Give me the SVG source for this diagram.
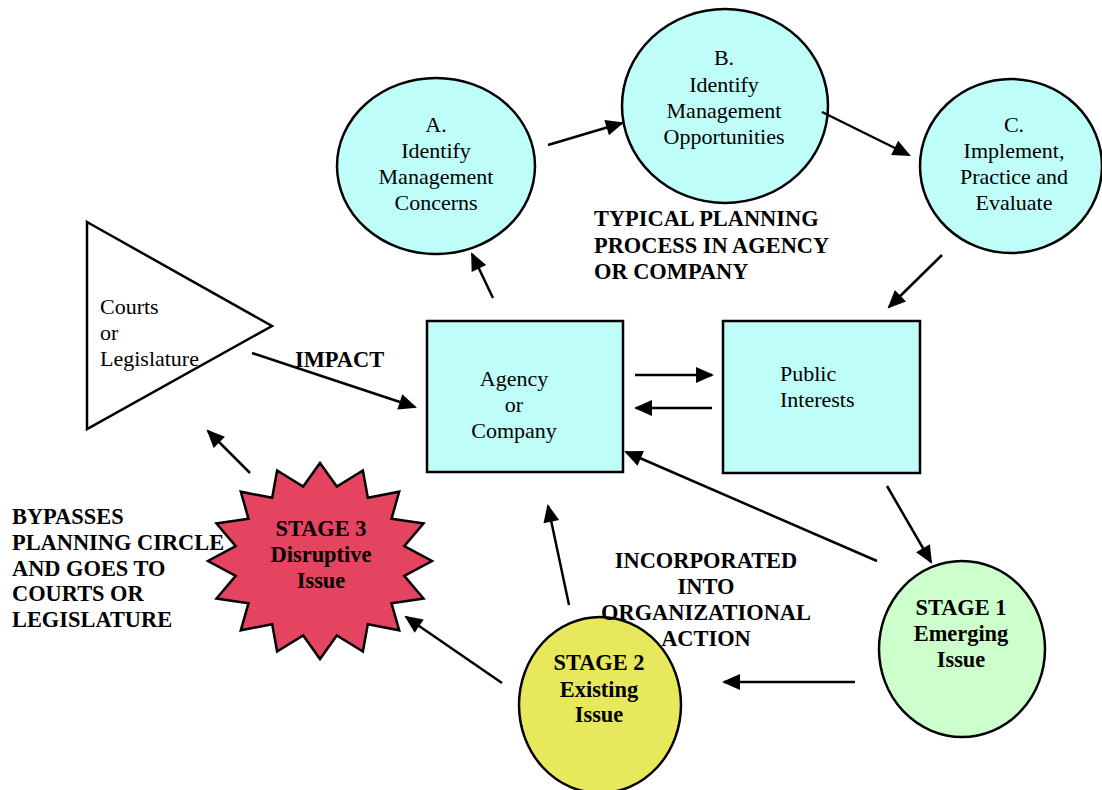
<svg xmlns="http://www.w3.org/2000/svg" width="1102" height="790" viewBox="0 0 1102 790">
<style>
.n{stroke:#000;stroke-width:2.5}
.cy{fill:#BEFDF8}
.t{font-family:"Liberation Serif","Times New Roman",serif;font-size:22px;fill:#000}
.b{font-family:"Liberation Serif","Times New Roman",serif;font-size:22.4px;font-weight:bold;fill:#000}
.m{text-anchor:middle}
.c line{stroke:#000;stroke-width:2.5;marker-end:url(#ah)}
</style>
<defs>
<marker id="ah" markerUnits="userSpaceOnUse" markerWidth="20" markerHeight="16" refX="16" refY="8" orient="auto" overflow="visible">
<path d="M0,0 L18,8 L0,16 z" fill="#000"/>
</marker>
</defs>
<rect width="1102" height="790" fill="#fff"/>

<g id="courts">
<polygon class="n" fill="#fff" points="87,222 272,326 87,429"/>
<text class="t" x="100" y="314">Courts</text>
<text class="t" x="100" y="340">or</text>
<text class="t" x="100" y="366">Legislature</text>
</g>

<g id="nodeA">
<ellipse class="n cy" cx="436" cy="166" rx="99" ry="88"/>
<text class="t m" x="436" y="132">A.</text>
<text class="t m" x="436" y="158">Identify</text>
<text class="t m" x="436" y="184">Management</text>
<text class="t m" x="436" y="210">Concerns</text>
</g>

<g id="nodeB">
<ellipse class="n cy" cx="725" cy="106" rx="103" ry="97"/>
<text class="t m" x="724" y="65">B.</text>
<text class="t m" x="724" y="92">Identify</text>
<text class="t m" x="724" y="118">Management</text>
<text class="t m" x="724" y="144">Opportunities</text>
</g>

<g id="nodeC">
<ellipse class="n cy" cx="1011" cy="166" rx="91" ry="87"/>
<text class="t m" x="1014" y="132">C.</text>
<text class="t m" x="1014" y="158">Implement,</text>
<text class="t m" x="1014" y="184">Practice and</text>
<text class="t m" x="1014" y="210">Evaluate</text>
</g>

<g id="agency">
<rect class="n cy" x="427" y="321" width="196" height="151"/>
<text class="t m" x="514" y="386">Agency</text>
<text class="t m" x="514" y="412">or</text>
<text class="t m" x="514" y="438">Company</text>
</g>

<g id="public">
<rect class="n cy" x="723" y="321" width="197" height="152"/>
<text class="t" x="780" y="381">Public</text>
<text class="t" x="780" y="407">Interests</text>
</g>

<g id="stage1">
<ellipse class="n" fill="#CCFFCC" cx="962" cy="649" rx="83" ry="88"/>
<text class="b m" x="961" y="615">STAGE 1</text>
<text class="b m" x="961" y="641">Emerging</text>
<text class="b m" x="961" y="667">Issue</text>
</g>

<g id="stage2">
<ellipse class="n" fill="#E8E85C" cx="600" cy="705" rx="81" ry="88"/>
<text class="b m" x="599" y="670">STAGE 2</text>
<text class="b m" x="599" y="697">Existing</text>
<text class="b m" x="599" y="722">Issue</text>
</g>

<g id="stage3">
<polygon class="n" fill="#E44460" points="320,463 336.8,486.5 362.9,470.5 367.8,497.8 399.2,491.7 391.5,518.8 423.5,523.5 404.3,546.2 432,561 404.3,575.8 423.5,598.5 391.5,603.2 399.2,630.3 367.8,624.2 362.9,651.5 336.8,635.5 320,659 303.2,635.5 277.1,651.5 272.2,624.2 240.8,630.3 248.5,603.2 216.5,598.5 235.7,575.8 208,561 235.7,546.2 216.5,523.5 248.5,518.8 240.8,491.7 272.2,497.8 277.1,470.5 303.2,486.5"/>
<text class="b m" x="321" y="536">STAGE 3</text>
<text class="b m" x="321" y="562">Disruptive</text>
<text class="b m" x="321" y="588">Issue</text>
</g>

<g id="labels">
<text class="b" x="594" y="226">TYPICAL PLANNING</text>
<text class="b" x="594" y="253">PROCESS IN AGENCY</text>
<text class="b" x="594" y="279">OR COMPANY</text>
<text class="b" x="295" y="367">IMPACT</text>
<text class="b" x="12" y="524">BYPASSES</text>
<text class="b" x="12" y="550">PLANNING CIRCLE</text>
<text class="b" x="12" y="576">AND GOES TO</text>
<text class="b" x="12" y="601">COURTS OR</text>
<text class="b" x="12" y="627">LEGISLATURE</text>
<text class="b m" x="706" y="568">INCORPORATED</text>
<text class="b m" x="706" y="594">INTO</text>
<text class="b m" x="706" y="620">ORGANIZATIONAL</text>
<text class="b m" x="706" y="646">ACTION</text>
</g>

<g id="connectors" class="c">
<line x1="548" y1="145" x2="622" y2="123"/>
<line x1="822" y1="112" x2="909" y2="155"/>
<line x1="942" y1="255" x2="889" y2="307"/>
<line x1="493" y1="298" x2="472" y2="254"/>
<line x1="635" y1="375" x2="712" y2="375"/>
<line x1="712" y1="408" x2="636" y2="408"/>
<line x1="877" y1="561" x2="626" y2="452"/>
<line x1="887" y1="486" x2="931" y2="562"/>
<line x1="855" y1="682" x2="724" y2="682"/>
<line x1="569" y1="605" x2="548" y2="506"/>
<line x1="502" y1="683" x2="406" y2="617"/>
<line x1="250" y1="473" x2="208" y2="431"/>
<line x1="252" y1="353" x2="415" y2="407"/>
</g>
</svg>
